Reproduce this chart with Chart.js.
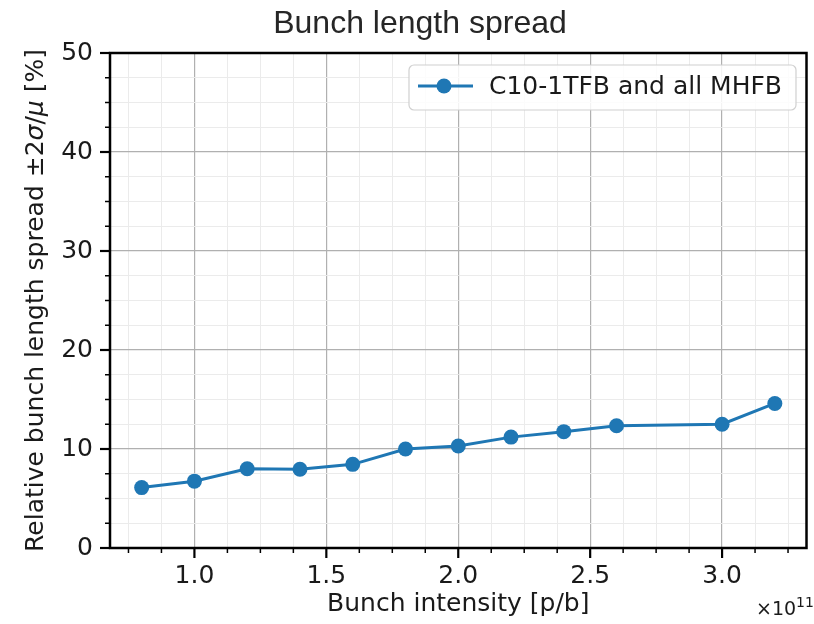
<!DOCTYPE html>
<html>
<head>
<meta charset="utf-8">
<script src="https://cdn.jsdelivr.net/npm/chart.js@4.4.0/dist/chart.umd.min.js"></script>
<style>
  html, body { margin: 0; padding: 0; background: #fff; }
  canvas { display: block; }
</style>
</head>
<body>
<canvas id="spreadChart" width="814" height="624"></canvas>
<script>
// bunch intensity, in units of 1e11 protons per bunch
const intensities = [0.8, 1.0, 1.2, 1.4, 1.6, 1.8, 2.0, 2.2, 2.4, 2.6, 3.0, 3.2];
// relative bunch length spread, +-2 sigma/mu in percent
const spreadValues = [6.1, 6.75, 8.0, 7.95, 8.45, 10.0, 10.3, 11.2, 11.75, 12.35, 12.5, 14.6];
const seriesLabel = 'C10-1TFB and all MHFB';
const xTickLabels = ['1.0', '1.5', '2.0', '2.5', '3.0'];
const yTickLabels = ['0', '10', '20', '30', '40', '50'];

const BLUE = '#1f77b4';
const TEXT = '#1a1a1a';
const FONT = 'DejaVu Sans';

function majorLabel(labels, value) {
    const hit = labels.find(l => Math.abs(parseFloat(l) - value) < 1e-6);
    return hit === undefined ? '' : hit;
}

function stepTicks(from, to, step) {
    const out = [];
    for (let v = from; v <= to + 1e-9; v += step) out.push({ value: Math.round(v * 1000) / 1000 });
    return out;
}

// outward tick marks, full box spines, title, offset text, y label and legend
const decorations = {
    id: 'decorations',
    afterDatasetsDraw(chart) {
        const ctx = chart.ctx;
        const area = chart.chartArea;
        const xs = chart.scales.x;
        const ys = chart.scales.y;
        ctx.save();
        ctx.strokeStyle = '#000';

        xs.ticks.forEach(t => {
            const major = majorLabel(xTickLabels, t.value) !== '';
            const px = xs.getPixelForValue(t.value);
            ctx.lineWidth = major ? 2.2 : 1.5;
            ctx.beginPath();
            ctx.moveTo(px, area.bottom);
            ctx.lineTo(px, area.bottom + (major ? 10 : 5));
            ctx.stroke();
        });
        ys.ticks.forEach(t => {
            const major = majorLabel(yTickLabels, t.value) !== '';
            const py = ys.getPixelForValue(t.value);
            ctx.lineWidth = major ? 2.2 : 1.5;
            ctx.beginPath();
            ctx.moveTo(area.left, py);
            ctx.lineTo(area.left - (major ? 10 : 5), py);
            ctx.stroke();
        });

        ctx.lineWidth = 2.5;
        ctx.strokeRect(area.left, area.top, area.right - area.left, area.bottom - area.top);

        // title
        ctx.fillStyle = '#262626';
        ctx.font = '32px "Liberation Sans", Arial, sans-serif';
        ctx.textAlign = 'center';
        ctx.textBaseline = 'alphabetic';
        ctx.fillText('Bunch length spread', 420, 33);

        // x10^11 offset text
        ctx.fillStyle = TEXT;
        ctx.textAlign = 'left';
        ctx.font = '19px "' + FONT + '"';
        ctx.fillText('\u00d710', 756, 615);
        const w10 = ctx.measureText('\u00d710').width;
        ctx.font = '14px "' + FONT + '"';
        ctx.fillText('11', 756 + w10, 607);

        // y axis label with italic sigma and mu
        const parts = [
            ['Relative bunch length spread \u00b12', false],
            ['\u03c3', true],
            ['/', false],
            ['\u03bc', true],
            [' [%]', false]
        ];
        const fontFor = it => (it ? 'italic ' : '') + '25px "' + FONT + '"';
        let total = 0;
        parts.forEach(p => { ctx.font = fontFor(p[1]); total += ctx.measureText(p[0]).width; });
        ctx.translate(43, (area.top + area.bottom) / 2);
        ctx.rotate(-Math.PI / 2);
        let cx = -total / 2;
        parts.forEach(p => {
            ctx.font = fontFor(p[1]);
            ctx.fillText(p[0], cx, 0);
            cx += ctx.measureText(p[0]).width;
        });
        ctx.setTransform(1, 0, 0, 1, 0, 0);

        // legend box
        const lx = 409, ly = 65, lw = 387, lh = 45;
        ctx.fillStyle = 'rgba(255,255,255,0.85)';
        ctx.strokeStyle = '#d0d0d0';
        ctx.lineWidth = 1.2;
        ctx.beginPath();
        ctx.roundRect(lx, ly, lw, lh, 5);
        ctx.fill();
        ctx.stroke();
        const my = 86;
        ctx.strokeStyle = BLUE;
        ctx.lineWidth = 3;
        ctx.beginPath();
        ctx.moveTo(418, my);
        ctx.lineTo(473, my);
        ctx.stroke();
        ctx.fillStyle = BLUE;
        ctx.beginPath();
        ctx.arc(444, my, 7.5, 0, Math.PI * 2);
        ctx.fill();
        ctx.fillStyle = TEXT;
        ctx.font = '25px "' + FONT + '"';
        ctx.textBaseline = 'middle';
        ctx.fillText(seriesLabel, 489, my + 1);
        ctx.restore();
    }
};

new Chart(document.getElementById('spreadChart').getContext('2d'), {
    type: 'line',
    data: {
        datasets: [{
            label: seriesLabel,
            data: intensities.map((x, i) => ({ x: x, y: spreadValues[i] })),
            borderColor: BLUE,
            backgroundColor: BLUE,
            borderWidth: 3,
            pointRadius: 7.5,
            pointBorderWidth: 0,
            pointBackgroundColor: BLUE,
            tension: 0,
            clip: false
        }]
    },
    options: {
        responsive: false,
        animation: false,
        devicePixelRatio: 1,
        layout: { padding: { top: 53, right: 7, left: 0, bottom: 0 } },
        plugins: {
            legend: { display: false },
            tooltip: { enabled: false },
            title: { display: false }
        },
        scales: {
            x: {
                type: 'linear',
                min: 0.68,
                max: 3.32,
                afterBuildTicks: scale => { scale.ticks = stepTicks(0.75, 3.25, 0.125); },
                afterFit: scale => { scale.height = 76; },
                border: { display: false },
                grid: {
                    drawTicks: false,
                    color: c => majorLabel(xTickLabels, c.tick.value) ? '#b0b0b0' : '#ebebeb',
                    lineWidth: c => majorLabel(xTickLabels, c.tick.value) ? 1.2 : 1
                },
                ticks: {
                    autoSkip: false,
                    maxRotation: 0,
                    padding: 13,
                    color: TEXT,
                    font: { family: FONT, size: 25 },
                    callback: v => majorLabel(xTickLabels, v)
                },
                title: {
                    display: true,
                    text: 'Bunch intensity [p/b]',
                    color: TEXT,
                    font: { family: FONT, size: 25 },
                    padding: { top: 0, bottom: 5 }
                }
            },
            y: {
                type: 'linear',
                min: 0,
                max: 50,
                afterBuildTicks: scale => { scale.ticks = stepTicks(0, 50, 2.5); },
                afterFit: scale => { scale.width = 110; },
                border: { display: false },
                grid: {
                    drawTicks: false,
                    color: c => majorLabel(yTickLabels, c.tick.value) ? '#b0b0b0' : '#ebebeb',
                    lineWidth: c => majorLabel(yTickLabels, c.tick.value) ? 1.2 : 1
                },
                ticks: {
                    autoSkip: false,
                    padding: 17,
                    color: TEXT,
                    font: { family: FONT, size: 25 },
                    callback: v => majorLabel(yTickLabels, v)
                }
            }
        }
    },
    plugins: [decorations]
});
</script>
</body>
</html>
